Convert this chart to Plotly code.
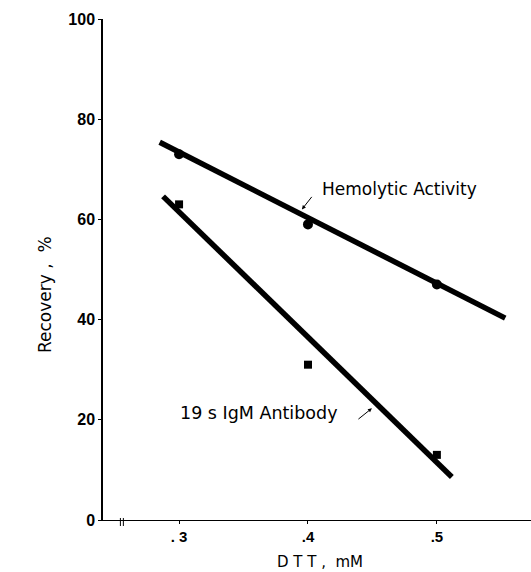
import plotly.graph_objects as go

# Data
dtt = [0.3, 0.4, 0.5]
hemolytic = [73, 59, 47]
igm = [63, 31, 13]

# fitted straight lines as drawn (end points)
hemo_line_x = [0.285, 0.553]
hemo_line_y = [75.4, 40.3]
igm_line_x = [0.2876, 0.5116]
igm_line_y = [64.6, 8.6]

x_tickvals = [0.3, 0.4, 0.5]
x_ticktext = [". 3", ".4", ".5"]
y_tickvals = [0, 20, 40, 60, 80, 100]

font = "Liberation Sans, Arial, sans-serif"
lab_font = "DejaVu Sans, sans-serif"

fig = go.Figure()
fig.add_trace(go.Scatter(x=hemo_line_x, y=hemo_line_y, mode="lines",
                         line=dict(color="black", width=5.5), showlegend=False))
fig.add_trace(go.Scatter(x=igm_line_x, y=igm_line_y, mode="lines",
                         line=dict(color="black", width=5.5), showlegend=False))
fig.add_trace(go.Scatter(x=dtt, y=hemolytic, mode="markers",
                         marker=dict(symbol="circle", size=10, color="black"),
                         showlegend=False))
fig.add_trace(go.Scatter(x=dtt, y=igm, mode="markers",
                         marker=dict(symbol="square", size=8, color="black"),
                         showlegend=False))

# labels
fig.add_annotation(x=0.4093, y=66.0, text="Hemolytic Activity", showarrow=False,
                   xanchor="left", yanchor="middle",
                   font=dict(family=lab_font, size=17, color="black"))
fig.add_annotation(x=0.3953, y=62.0, text="", showarrow=True, arrowhead=2,
                   arrowsize=0.8, arrowwidth=1, arrowcolor="black",
                   ax=11, ay=-14)
fig.add_annotation(x=0.2992, y=21.3, text="19 s IgM Antibody", showarrow=False,
                   xanchor="left", yanchor="middle",
                   font=dict(family=lab_font, size=17.5, color="black"))
fig.add_annotation(x=0.4496, y=22.3, text="", showarrow=True, arrowhead=2,
                   arrowsize=0.8, arrowwidth=1, arrowcolor="black",
                   ax=-15, ay=12)

# axis titles
fig.add_annotation(xref="paper", yref="paper", x=0.507, y=-0.083,
                   text="D T T ,  mM", showarrow=False,
                   xanchor="center", yanchor="middle",
                   font=dict(family=lab_font, size=15, color="black"))
fig.add_annotation(xref="paper", yref="paper", x=-0.1355, y=0.449,
                   text="Recovery ,  %", showarrow=False, textangle=-90,
                   xanchor="center", yanchor="middle",
                   font=dict(family=lab_font, size=17, color="black"))

# axis break marks on x axis
for xb in [0.2545, 0.2568]:
    fig.add_shape(type="line", xref="x", yref="paper", x0=xb, x1=xb,
                  y0=-0.012, y1=0.004, line=dict(color="black", width=1))

fig.update_layout(
    width=531, height=572,
    margin=dict(l=103, r=0, t=19, b=52),
    plot_bgcolor="white", paper_bgcolor="white",
    font=dict(family=font, color="black"),
)
fig.update_xaxes(range=[0.241, 0.573], showgrid=False, zeroline=False,
                 showline=True, linecolor="black", linewidth=1,
                 tickvals=x_tickvals, ticktext=x_ticktext,
                 ticks="outside", ticklen=3, tickcolor="black",
                 tickfont=dict(family=font, size=15, color="black", weight="bold"))
fig.update_yaxes(range=[0, 100], showgrid=False, zeroline=False,
                 showline=True, linecolor="black", linewidth=1.5,
                 tickvals=y_tickvals,
                 ticks="outside", ticklen=3, tickcolor="black",
                 tickfont=dict(family=font, size=16, color="black", weight="bold"))

fig.write_html("out.html")
